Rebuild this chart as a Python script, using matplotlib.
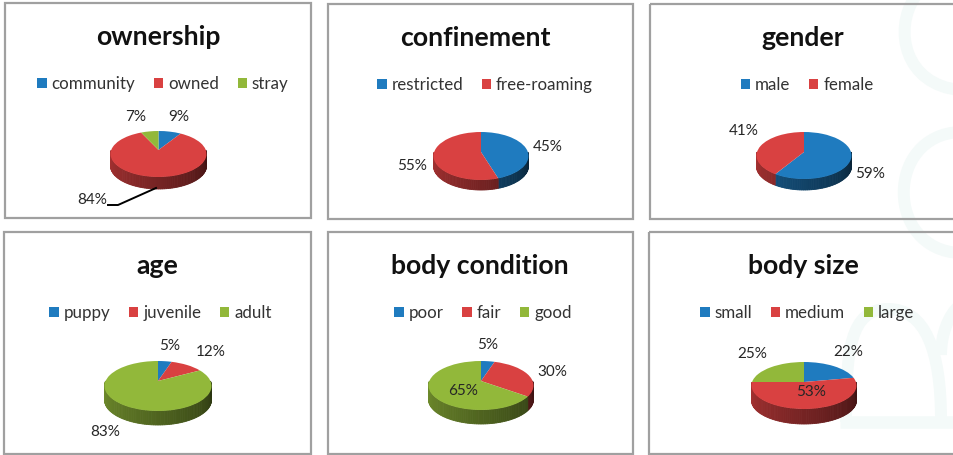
import numpy as np
import matplotlib
matplotlib.use("Agg")
import matplotlib.pyplot as plt
from matplotlib.path import Path
from matplotlib.patches import PathPatch, Rectangle, Polygon
from matplotlib.colors import to_rgb
from matplotlib.transforms import Transform

plt.rcParams['font.family'] = ['Lato', 'DejaVu Sans']

W, H = 954, 455
BLUE, RED, GREEN = '#1f7bbf', '#d94141', '#92b83a'

titles = ['ownership', 'confinement', 'gender', 'age', 'body condition', 'body size']
ownership_labels = ['community', 'owned', 'stray']
ownership_values = [9, 84, 7]
confinement_labels = ['restricted', 'free-roaming']
confinement_values = [45, 55]
gender_labels = ['male', 'female']
gender_values = [59, 41]
age_labels = ['puppy', 'juvenile', 'adult']
age_values = [5, 12, 83]
condition_labels = ['poor', 'fair', 'good']
condition_values = [5, 30, 65]
size_labels = ['small', 'medium', 'large']
size_values = [22, 53, 25]

series = [(ownership_labels, ownership_values), (confinement_labels, confinement_values),
          (gender_labels, gender_values), (age_labels, age_values),
          (condition_labels, condition_values), (size_labels, size_values)]

# layout in pixels: frame, pie centre x, half width, apex y, top y, front y of the face, wall depth
layout = [
    dict(frame=(5, 3, 311, 218), cx=158.5, hw=48, apex=150, top=131, front=177, d=12,
         tc=158, ty=37, lc=163, ly=84, lab=[(179, 117), (92, 200), (136, 117)]),
    dict(frame=(328, 4, 633, 219), cx=481, hw=47.5, apex=152, top=132, front=180, d=10,
         tc=475.5, ty=38.5, lc=485, ly=85, lab=[(548, 147), (412, 166)]),
    dict(frame=(650, 4, 960, 219), cx=804, hw=47.5, apex=152, top=132, front=179, d=11,
         tc=803, ty=38, lc=807, ly=85, lab=[(870, 174), (744, 131)]),
    dict(frame=(4, 232, 311, 454), cx=158, hw=53.5, apex=381, top=361, front=411, d=14,
         tc=157, ty=266, lc=160.5, ly=313, lab=[(170, 346), (211, 352), (105, 432)]),
    dict(frame=(328, 232, 633, 454), cx=481, hw=52.5, apex=381, top=361, front=410, d=14,
         tc=480, ty=266, lc=483, ly=313, lab=[(488, 345), (552, 372), (463, 391)]),
    dict(frame=(649, 232, 960, 454), cx=804, hw=52.5, apex=382, top=362, front=409, d=15,
         tc=803, ty=266, lc=807.5, ly=313, lab=[(848, 352), (811, 392), (752, 354)]),
]


class Persp(Transform):
    """Tilted-disc projection: the front of the pie comes out larger than the back."""
    input_dims = output_dims = 2
    is_affine = False
    has_inverse = False

    def __init__(self, k):
        super().__init__()
        self.k = k

    def transform_non_affine(self, values):
        v = np.asarray(values, float)
        s = 1 + self.k * v[:, 1]
        return np.column_stack([v[:, 0] / s, v[:, 1] / s])


fig = plt.figure(figsize=(W / 100, H / 100), dpi=100, facecolor='white')
bg = fig.add_axes([0, 0, 1, 1], zorder=0)
bg.set_xlim(0, W)
bg.set_ylim(H, 0)
bg.axis('off')

# faint watermark shapes
WM = '#f4faf9'
C = Path.CURVE4
codes = [Path.MOVETO, C, C, C]
for verts in [
    [(915, -3), (893, 30), (905, 85), (960, 90)],
    [(960, 132), (885, 135), (885, 250), (960, 253)],
    [(846, 422), (846, 350), (850, 309), (888, 309)],
    [(888, 309), (925, 309), (941, 350), (941, 420)],
    [(960, 305), (948, 315), (941, 335), (941, 355)],
]:
    bg.add_patch(PathPatch(Path(verts, codes), fc='none', ec=WM, lw=8.6, zorder=1))
bg.plot([840, 960], [421.5, 421.5], color=WM, lw=9, solid_capstyle='butt', zorder=1)


def shade(col, ang):
    t = (ang - 180) / 180
    f = 0.8 - 0.52 * t
    return tuple(c * f for c in to_rgb(col))


for title, (labels, values), L in zip(titles, series, layout):
    x0, y0, x1, y1 = L['frame']
    bg.add_patch(Rectangle((x0, y0), x1 - x0, y1 - y0, fc='none', ec='#a0a0a0', lw=1.6, zorder=2))
    bg.text(L['tc'], L['ty'], title, ha='center', va='center',
            fontsize=19.2, fontweight='bold', color='#111111', zorder=5)

    cx, apex, d = L['cx'], L['apex'], L['d']
    back, fore = apex - L['top'], L['front'] - apex
    k = (fore - back) / (fore + back)
    ry = back * (1 + k)
    rx = L['hw'] * np.sqrt(1 - k ** 2)
    persp = Persp(k)

    # panel axes in units of the pie radii, so ax.pie draws an ellipse
    ax = fig.add_axes([x0 / W, 1 - y1 / H, (x1 - x0) / W, (y1 - y0) / H], zorder=3)
    ax.patch.set_alpha(0)
    cols = [BLUE, RED, GREEN][:len(values)]
    wedges, _ = ax.pie(values, colors=cols, startangle=90, counterclock=False, radius=1,
                       wedgeprops=dict(linewidth=0))
    ax.set_aspect('auto')
    ax.set_xlim((x0 - cx) / rx, (x1 - cx) / rx)
    ax.set_ylim((apex - y1) / ry, (apex - y0) / ry)
    ax.axis('off')
    for w in wedges:
        w.set_transform(persp + ax.transData)
        w.set_zorder(4)

    # side wall, short strips following each slice along the front of the pie
    dd = d / ry
    edges = 90 - 360 * np.cumsum([0] + list(values)) / np.sum(values)
    for i, col in enumerate(cols):
        a, b = edges[i + 1] % 360, edges[i] % 360
        if b <= a:
            b += 360
        for shift in (0, 360):
            lo, hi = max(a - shift, 180), min(b - shift, 360)
            for t in np.arange(lo, hi, 2.0):
                t2 = min(t + 2.0, hi)
                pts = persp.transform_non_affine(
                    np.column_stack([np.cos(np.radians([t, t2])), np.sin(np.radians([t, t2]))]))
                c = shade(col, t)
                ax.add_patch(Polygon([pts[0], pts[1], pts[1] - (0, dd), pts[0] - (0, dd)],
                                     fc=c, ec=c, lw=0.6, zorder=2))

    # percent labels
    for v, (px, py) in zip(values, L['lab']):
        ax.text(px, py, f'{v}%', transform=bg.transData, ha='center', va='center',
                fontsize=11, color='#262626', zorder=6)

    # legend
    ax.legend(wedges, labels, ncol=len(labels), loc='center', frameon=False,
              bbox_to_anchor=(L['lc'], L['ly']), bbox_transform=bg.transData, fontsize=12.2,
              labelcolor='#333333', handlelength=0.56, handleheight=0.6, handletextpad=0.28,
              columnspacing=1.1, borderpad=0, labelspacing=0)

    # leader line of the ownership label
    if title == 'ownership':
        ax.plot([108, 118, 156], [205, 205, 188], transform=bg.transData,
                color='black', lw=1.4, zorder=6)

fig.savefig('out.png', dpi=100)
